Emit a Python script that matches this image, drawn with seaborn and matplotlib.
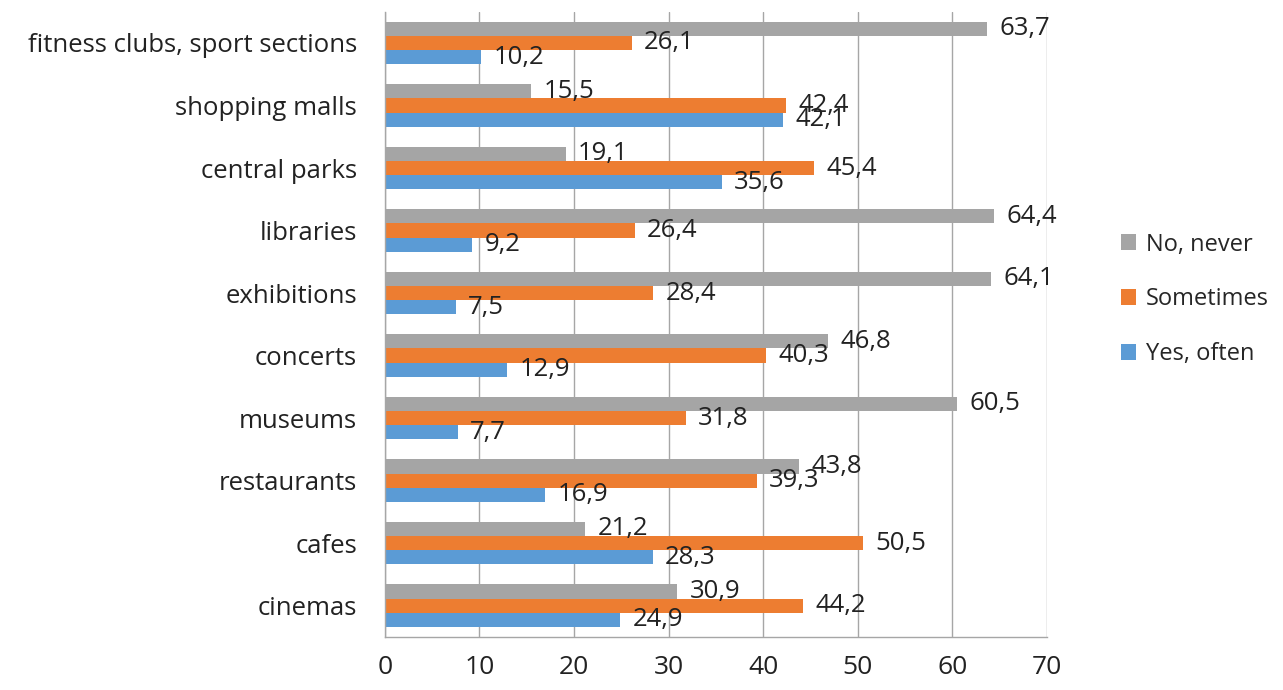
import numpy as np
import matplotlib.pyplot as plt
import pandas as pd
import seaborn as sns

places = ["fitness clubs, sport sections", "shopping malls", "central parks", "libraries",
          "exhibitions", "concerts", "museums", "restaurants", "cafes", "cinemas"]
no_never = [63.7, 15.5, 19.1, 64.4, 64.1, 46.8, 60.5, 43.8, 21.2, 30.9]
sometimes = [26.1, 42.4, 45.4, 26.4, 28.4, 40.3, 31.8, 39.3, 50.5, 44.2]
yes_often = [10.2, 42.1, 35.6, 9.2, 7.5, 12.9, 7.7, 16.9, 28.3, 24.9]
answers = ["No, never", "Sometimes", "Yes, often"]
colors = ["#A5A5A5", "#ED7D31", "#5B9BD5"]

df = pd.DataFrame({"place": places * 3,
                   "value": no_never + sometimes + yes_often,
                   "answer": [a for a in answers for _ in places]})

sns.set_style("white")
plt.rcParams['font.family'] = ['Open Sans', 'DejaVu Sans']

fig, ax = plt.subplots(figsize=(12.83, 6.90), dpi=100)
fig.subplots_adjust(left=0.300, right=0.816, top=0.983, bottom=0.077)

sns.barplot(data=df, x="value", y="place", hue="answer", hue_order=answers,
            palette=colors, order=places, width=0.68, saturation=1, linewidth=0, ax=ax)

for cont in ax.containers:
    labels = [f"{v:.1f}".replace(".", ",") for v in cont.datavalues]
    ax.bar_label(cont, labels=labels, padding=9, fontsize=18.5, color="#222222")

ax.set_xlim(0, 70)
ax.set_xticks(range(0, 71, 10))
ax.set_ylim(len(places) - 0.5, -0.5)
ax.set_xlabel("")
ax.set_ylabel("")
ax.xaxis.grid(True, color="#A6A6A6", linewidth=1)
ax.set_axisbelow(True)
for s in ["top", "right"]:
    ax.spines[s].set_visible(False)
for s in ["left", "bottom"]:
    ax.spines[s].set_color("#A6A6A6")
    ax.spines[s].set_linewidth(1)

ax.set_yticks(np.arange(-0.5, len(places), 1), minor=True)
ax.tick_params(axis="y", which="major", length=0, labelsize=18.5, pad=20, labelcolor="#222222")
ax.tick_params(axis="y", which="minor", length=7, color="#A6A6A6", direction="out")
ax.tick_params(axis="x", length=7, color="#A6A6A6", labelsize=19, pad=6, labelcolor="#222222")

ax.legend(loc="center left", bbox_to_anchor=(1.08, 0.54), frameon=False, fontsize=17,
          handlelength=0.65, handleheight=0.65, labelspacing=1.3, handletextpad=0.4)

plt.savefig("out.png", dpi=100)
